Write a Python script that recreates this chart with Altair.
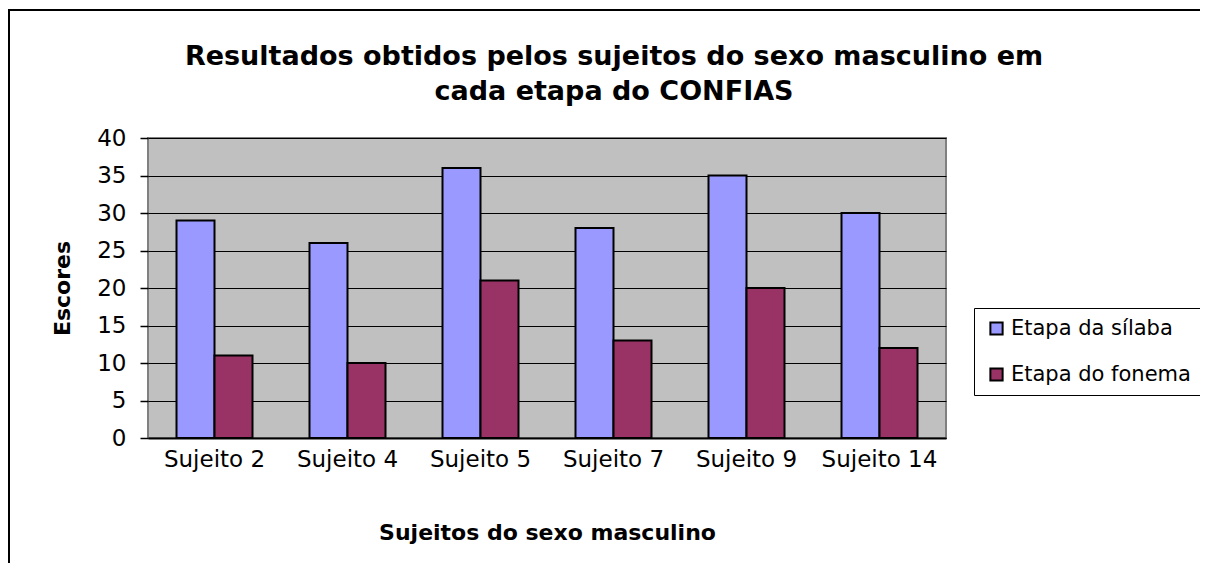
import altair as alt
import pandas as pd

subjects = ["Sujeito 2", "Sujeito 4", "Sujeito 5", "Sujeito 7", "Sujeito 9", "Sujeito 14"]
silaba = [29, 26, 36, 28, 35, 30]
fonema = [11, 10, 21, 13, 20, 12]
series = ["Etapa da sílaba", "Etapa do fonema"]
colors = ["#9999FF", "#993366"]
y_ticks = [0, 5, 10, 15, 20, 25, 30, 35, 40]
title_lines = ["Resultados obtidos pelos sujeitos do sexo masculino em", "cada etapa do CONFIAS"]

rows = []
for s, a, b in zip(subjects, silaba, fonema):
    rows.append({"Sujeito": s, "Etapa": series[0], "Escore": a})
    rows.append({"Sujeito": s, "Etapa": series[1], "Escore": b})
df = pd.DataFrame(rows)

FONT = "DejaVu Sans"

bars = alt.Chart(df).mark_bar(stroke="black", strokeWidth=2).encode(
    x=alt.X(
        "Sujeito:N",
        sort=subjects,
        scale=alt.Scale(paddingInner=0.4286, paddingOuter=0.2143),
        axis=alt.Axis(
            title="Sujeitos do sexo masculino",
            labelAngle=0,
            ticks=False,
            domain=True,
            domainColor="black",
            domainWidth=2,
            grid=False,
            labelPadding=10,
            labelFont=FONT,
            labelFontSize=23,
            labelColor="black",
            titleFont=FONT,
            titleFontSize=22,
            titleFontWeight="bold",
            titleColor="black",
            titleY=94,
            titleBaseline="middle",
        ),
    ),
    xOffset=alt.XOffset("Etapa:N", sort=series, scale=alt.Scale(paddingInner=0, paddingOuter=0)),
    y=alt.Y(
        "Escore:Q",
        scale=alt.Scale(domain=[0, 40], nice=False),
        axis=alt.Axis(
            title="Escores",
            values=y_ticks,
            domain=False,
            grid=True,
            gridColor="black",
            gridWidth=1.2,
            ticks=True,
            tickSize=8,
            tickColor="black",
            tickWidth=1.5,
            labelPadding=14,
            labelFont=FONT,
            labelFontSize=23,
            labelColor="black",
            titleFont=FONT,
            titleFontSize=22,
            titleFontWeight="bold",
            titleColor="black",
            titleX=-86,
            titleY=150,
            titleAngle=270,
            titleAlign="center",
            titleBaseline="middle",
        ),
    ),
    color=alt.Color(
        "Etapa:N",
        sort=series,
        scale=alt.Scale(domain=series, range=colors),
        legend=alt.Legend(
            title=None,
            orient="none",
            legendX=826,
            legendY=170,
            strokeColor="black",
            fillColor="white",
            padding=10,
            symbolType="square",
            symbolSize=150,
            symbolStrokeColor="black",
            symbolStrokeWidth=2,
            symbolOffset=2,
            labelFont=FONT,
            labelFontSize=21,
            labelColor="black",
            labelOffset=4,
            labelLimit=400,
            rowPadding=24,
        ),
    ),
)

one = pd.DataFrame({"k": [0]})

border = alt.Chart(one).mark_rect(
    filled=False, stroke="black", strokeWidth=2
).encode(
    x=alt.value(-139), x2=alt.value(1060), y=alt.value(-128), y2=alt.value(480)
)

title1 = alt.Chart(one).mark_text(
    font=FONT, fontSize=27, fontWeight="bold", color="black", align="center", baseline="alphabetic"
).encode(x=alt.value(466), y=alt.value(-73), text=alt.value(title_lines[0]))

title2 = alt.Chart(one).mark_text(
    font=FONT, fontSize=27, fontWeight="bold", color="black", align="center", baseline="alphabetic"
).encode(x=alt.value(466), y=alt.value(-38), text=alt.value(title_lines[1]))

chart = alt.layer(bars, border, title1, title2).properties(
    width=798,
    height=300,
    autosize=alt.AutoSizeParams(type="none"),
    padding={"left": 140, "top": 130, "right": 254, "bottom": 125},
).configure_view(
    fill="#C0C0C0", stroke="#808080", strokeWidth=2
)

chart.save("out.html", embed_options={"renderer": "svg", "actions": False})
